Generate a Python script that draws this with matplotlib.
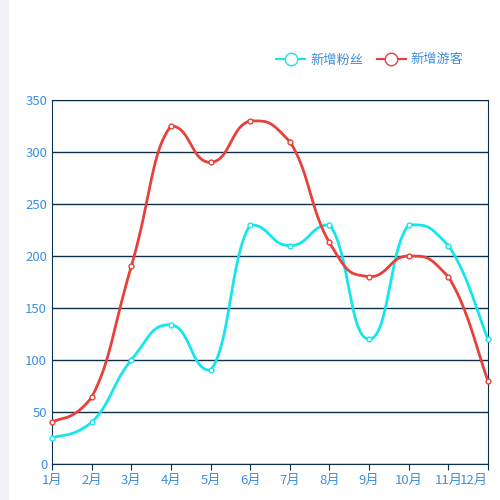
import matplotlib
matplotlib.use("Agg")
import matplotlib.pyplot as plt
import numpy as np
from matplotlib.lines import Line2D

plt.rcParams['font.family'] = ['Noto Sans CJK SC', 'DejaVu Sans']

months = ['1月','2月','3月','4月','5月','6月','7月','8月','9月','10月','11月','12月']
fans = [25, 40, 100, 134, 90, 230, 210, 230, 120, 230, 210, 120]
visitors = [40, 64, 190, 325, 290, 330, 310, 213, 180, 200, 180, 80]

def smooth(xs, ys, s=0.5, n=30):
    xs = np.asarray(xs, float); ys = np.asarray(ys, float)
    outx, outy = [], []
    m = len(xs)
    for i in range(m - 1):
        p0 = (xs[i], ys[i]); p1 = (xs[i+1], ys[i+1])
        pp = (xs[i-1], ys[i-1]) if i > 0 else p0
        pn = (xs[i+2], ys[i+2]) if i + 2 < m else p1
        lo, hi = min(p0[1], p1[1]), max(p0[1], p1[1])
        c1 = (p0[0] + s*(p1[0]-pp[0])/2, np.clip(p0[1] + s*(p1[1]-pp[1])/2, lo, hi))
        c2 = (p1[0] - s*(pn[0]-p0[0])/2, np.clip(p1[1] - s*(pn[1]-p0[1])/2, lo, hi))
        t = np.linspace(0, 1, n)
        bx = (1-t)**3*p0[0] + 3*(1-t)**2*t*c1[0] + 3*(1-t)*t**2*c2[0] + t**3*p1[0]
        by = (1-t)**3*p0[1] + 3*(1-t)**2*t*c1[1] + 3*(1-t)*t**2*c2[1] + t**3*p1[1]
        outx.extend(bx); outy.extend(by)
    return outx, outy

fig = plt.figure(figsize=(5, 5), dpi=100)
fig.patches.append(plt.Rectangle((0, 0), 0.016, 1, transform=fig.transFigure, color='#f0f0f5'))
ax = fig.add_axes([0.104, 0.072, 0.872, 0.728])

x = np.arange(len(months))
cyan = '#14e6ee'; red = '#e8403a'; dark = '#0d2f4d'; blue = '#3d8fe0'
for ys, c in [(fans, cyan), (visitors, red)]:
    sx, sy = smooth(x, ys)
    ax.plot(sx, sy, color=c, lw=2, zorder=3)
    ax.plot(x, ys, 'o', ms=3.5, mfc='white', mec=c, mew=1, zorder=4, clip_on=False)

ax.set_xlim(0, 11); ax.set_ylim(0, 350)
ax.set_yticks(range(0, 351, 50))
ax.set_xticks(x); ax.set_xticklabels(months)
ax.grid(axis='y', color=dark, lw=1)
for s in ax.spines.values():
    s.set_color(dark)
ax.tick_params(colors=blue, labelsize=9.5)
ax.tick_params(axis='y', length=0)
ax.tick_params(axis='x', color=dark, length=4)
ax.get_xticklabels()[-1].set_horizontalalignment('right')

handles = [Line2D([], [], color=cyan, marker='o', ms=9, mfc='white', mec=cyan, lw=1.5),
           Line2D([], [], color=red, marker='o', ms=9, mfc='white', mec=red, lw=1.5)]
leg = fig.legend(handles, ['新增粉丝', '新增游客'], loc='center', bbox_to_anchor=(0.74, 0.88),
                 ncol=2, frameon=False, fontsize=9.5, handlelength=2.2, columnspacing=1.0, handletextpad=0.4)
for t in leg.get_texts():
    t.set_color(blue)
fig.savefig('out.png', dpi=100)
